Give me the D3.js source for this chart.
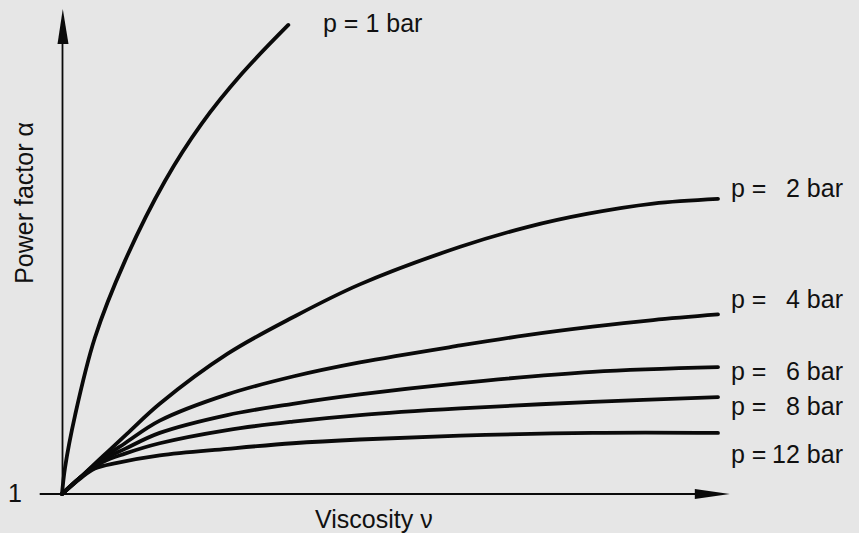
<!DOCTYPE html>
<head>
    <meta charset="utf-8">
    <style>
        body{
            margin:0;
            background:#e6e6e6;
        }
        svg{
            display:block;
        }
        .curve{
            fill:none;
            stroke:#0a0a0a;
            stroke-width:3.8px;
            stroke-linecap:round;
            stroke-linejoin:round;
        }
        .axis-line{
            stroke:#0a0a0a;
            stroke-width:1.8px;
        }
        .arrow{
            fill:#0a0a0a;
        }
        text{
            font-family:"Liberation Sans", Arial, sans-serif;
            font-size:25px;
            fill:#111;
        }
    </style>
</head>
<body>
    <div id="chart"></div>
    <script src="https://d3js.org/d3.v7.min.js"></script>
    <script>
        // pressure of each curve (bar)
        var pressures = [1, 2, 4, 6, 8, 12];

        // [viscosity, power factor], arbitrary units
        var p1 = [[0,1],[0.46,1.28],[2,1.84],[5,2.66],[9.6,3.48],[15.7,4.33],[21.3,4.94],[27.4,5.47],[34.5,5.99]];
        var p2 = [[0,1],[2.7,1.17],[6.2,1.40],[9.9,1.64],[14.9,1.96],[25.2,2.49],[35.2,2.88],[45.4,3.23],[60.7,3.63],[70.9,3.84],[80,3.98],[90.1,4.09],[100,4.14]];
        var p4 = [[0,1],[2.7,1.17],[6.2,1.38],[9.6,1.54],[14.9,1.78],[25.2,2.06],[35.2,2.25],[45.4,2.40],[60.7,2.58],[70.9,2.69],[80.9,2.78],[90.1,2.85],[100,2.91]];
        var p6 = [[0,1],[2.7,1.17],[6.2,1.36],[9.6,1.48],[14.9,1.65],[25.2,1.84],[35.2,1.96],[45.4,2.06],[60.7,2.18],[80.9,2.30],[100,2.35]];
        var p8 = [[0,1],[2.7,1.17],[6.2,1.34],[9.6,1.43],[14.9,1.54],[25.2,1.68],[35.2,1.77],[45.4,1.84],[60.7,1.91],[80.9,1.98],[100,2.03]];
        var p12 = [[0,1],[2.7,1.16],[5,1.27],[8.4,1.33],[14.9,1.41],[25.2,1.48],[35.2,1.54],[45.4,1.58],[60.7,1.62],[80.9,1.65],[100,1.65]];
        var series = [p1, p2, p4, p6, p8, p12];

        var yTickLabels = ["1"];
        var xTitle = "Viscosity \u03bd";
        var yTitle = "Power factor \u03b1";

        var width = 859, height = 533;

        var x = d3.scaleLinear().domain([0, 100]).range([62, 718]);
        var y = d3.scaleLinear().domain([1, 6]).range([494, 24]);

        var svg = d3.select("#chart").append("svg")
            .attr("width", width)
            .attr("height", height);

        // axes drawn as plain arrows
        var x0 = x(0), y0 = y(1);
        var xEnd = x(101.8), yEnd = y(6.16);

        svg.append("line").attr("class", "axis-line")
            .attr("x1", x(-3.4)).attr("y1", y0)
            .attr("x2", xEnd - 30).attr("y2", y0);
        svg.append("path").attr("class", "arrow")
            .attr("d", "M" + xEnd + "," + y0 + "L" + (xEnd - 35) + "," + (y0 - 5) + "L" + (xEnd - 35) + "," + (y0 + 5) + "Z");

        svg.append("line").attr("class", "axis-line")
            .attr("x1", x0 + 0.5).attr("y1", y0)
            .attr("x2", x0 + 0.5).attr("y2", yEnd + 30);
        svg.append("path").attr("class", "arrow")
            .attr("d", "M" + (x0 + 0.8) + "," + yEnd + "L" + (x0 - 4.5) + "," + (yEnd + 35) + "L" + (x0 + 6.5) + "," + (yEnd + 35) + "Z");

        // tick label at origin
        svg.append("text")
            .attr("x", 8)
            .attr("y", y(1) + 8)
            .text(yTickLabels[0]);

        svg.append("text")
            .attr("x", 315)
            .attr("y", 528)
            .text(xTitle);

        svg.append("text")
            .attr("transform", "translate(33," + 203 + ") rotate(-90)")
            .attr("text-anchor", "middle")
            .text(yTitle);

        var line = d3.line()
            .x(function(d) { return x(d[0]); })
            .y(function(d) { return y(d[1]); })
            .curve(d3.curveCatmullRom.alpha(0.5));

        svg.selectAll(".curve")
            .data(series)
            .enter().append("path")
            .attr("class", "curve")
            .attr("d", line);

        // labels: p = 1 bar sits at the top end, the rest on the right
        svg.append("text")
            .attr("x", 323)
            .attr("y", 32)
            .text("p = " + pressures[0] + " bar");

        var labelY = [197, 308, 380, 415, 463];
        pressures.slice(1).forEach(function(p, i) {
            svg.append("text")
                .attr("x", 731)
                .attr("y", labelY[i])
                .text("p =");
            svg.append("text")
                .attr("x", 843)
                .attr("y", labelY[i])
                .attr("text-anchor", "end")
                .text(p + " bar");
        });
    </script>
</body>
